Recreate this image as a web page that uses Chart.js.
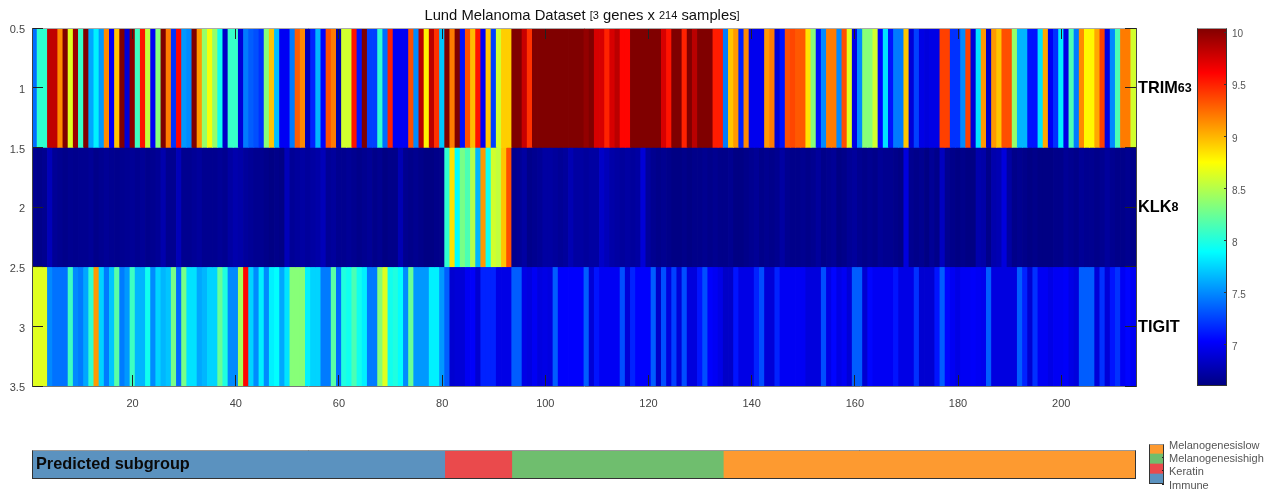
<!DOCTYPE html>
<html>
<head>
<meta charset="utf-8">
<title>Lund Melanoma Dataset</title>
<script src="https://cdn.jsdelivr.net/npm/chart.js@4/dist/chart.umd.min.js"></script>
<style>
    html, body { margin: 0; padding: 0; background: #fff; }
    #page { position: relative; width: 1275px; height: 489px; overflow: hidden; }
    canvas { position: absolute; display: block; }
</style>
</head>
<body>
<div id="page">
    <canvas id="heatmap" width="1197" height="420" style="left:0;top:0"></canvas>
    <canvas id="colorbar" width="78" height="420" style="left:1197px;top:0"></canvas>
    <canvas id="subgroup" width="1140" height="49" style="left:0;top:440px"></canvas>
    <canvas id="legend" width="127" height="59" style="left:1148px;top:430px"></canvas>
</div>
<script>
// 1. DATA
const chartTitle = 'Lund Melanoma Dataset [3 genes x 214 samples]';
const geneNames = ['TRIM63', 'KLK8', 'TIGIT'];
const rowBands = [[0.5, 1.5], [1.5, 2.5], [2.5, 3.5]];

const trim63 = [
    7.41, 8.05, 8.05, 9.83, 9.83, 9.15, 10.05, 8.65, 9.95, 8.08,
    10.05, 7.6, 7.85, 7.55, 9.15, 7.0, 8.95, 10.05, 6.9, 10.0,
    8.1, 9.55, 8.55, 7.0, 8.35, 10.05, 9.2, 7.2, 9.6, 7.55,
    7.5, 10.05, 9.1, 8.4, 8.72, 8.4, 7.95, 6.85, 8.08, 8.08,
    6.9, 7.45, 7.35, 7.3, 7.2, 8.35, 8.95, 7.68, 7.0, 7.0,
    7.45, 9.3, 9.15, 6.8, 7.15, 7.65, 7.05, 9.35, 9.2, 6.75,
    8.6, 8.6, 9.55, 7.1, 10.05, 7.25, 7.25, 8.05, 7.4, 9.5,
    7.0, 7.0, 7.0, 9.35, 7.5, 9.85, 8.8, 9.85, 9.45, 7.7,
    10.05, 9.2, 10.05, 7.1, 9.35, 8.98, 9.55, 7.0, 8.95, 7.25,
    8.6, 8.92, 8.92, 10.05, 10.05, 9.8, 9.45, 10.05, 10.05, 10.05,
    10.05, 10.05, 10.05, 10.05, 10.05, 10.05, 10.05, 9.98, 10.05, 9.75,
    9.75, 9.5, 9.75, 9.85, 9.6, 9.6, 10.05, 10.05, 10.05, 10.05,
    10.05, 10.05, 9.75, 9.55, 10.05, 10.05, 9.5, 10.05, 9.85, 10.05,
    10.05, 10.05, 9.52, 9.52, 7.45, 8.95, 9.1, 7.15, 9.15, 6.98,
    6.98, 6.98, 9.1, 9.2, 6.9, 7.1, 9.35, 9.38, 9.32, 9.32,
    8.85, 8.35, 7.1, 7.5, 9.2, 9.2, 7.5, 9.35, 8.65, 6.95,
    7.5, 8.35, 8.35, 8.6, 7.05, 7.8, 7.1, 7.45, 7.45, 8.95,
    6.9, 7.25, 6.95, 6.92, 6.95, 6.95, 9.4, 9.4, 7.2, 7.2,
    7.5, 9.4, 6.9, 7.8, 9.1, 6.85, 9.1, 8.95, 9.35, 9.35,
    8.4, 7.65, 7.65, 7.1, 7.1, 7.8, 9.05, 7.0, 7.2, 7.85,
    6.95, 8.15, 7.45, 9.15, 8.78, 8.78, 9.05, 9.4, 6.95, 7.5,
    8.15, 9.2, 9.2, 8.6
];

const klk8 = [
    6.66, 6.64, 6.66, 6.8, 6.68, 6.66, 6.64, 6.66, 6.65, 6.66,
    6.66, 6.68, 6.64, 6.66, 6.68, 6.66, 6.65, 6.66, 6.67, 6.68,
    6.66, 6.68, 6.65, 6.66, 6.68, 6.76, 6.66, 6.66, 6.8, 6.66,
    6.66, 6.68, 6.7, 6.66, 6.66, 6.66, 6.68, 6.66, 6.72, 6.76,
    6.74, 6.7, 6.68, 6.66, 6.66, 6.64, 6.62, 6.64, 6.62, 6.8,
    6.68, 6.7, 6.72, 6.7, 6.72, 6.74, 6.8, 6.68, 6.7, 6.66,
    6.66, 6.68, 6.66, 6.64, 6.66, 6.68, 6.64, 6.66, 6.62, 6.64,
    6.64, 6.78, 6.66, 6.64, 6.66, 6.64, 6.62, 6.62, 6.64, 6.64,
    8.05, 8.85, 7.9, 8.3, 8.15, 8.5, 7.65, 9.1, 7.95, 8.6,
    8.55, 8.95, 9.35, 6.66, 6.68, 6.72, 6.64, 6.66, 6.68, 6.72,
    6.72, 6.7, 6.68, 6.7, 6.78, 6.72, 6.72, 6.7, 6.72, 6.72,
    6.85, 6.8, 6.74, 6.72, 6.7, 6.72, 6.7, 6.72, 6.9, 6.7,
    6.66, 6.64, 6.66, 6.64, 6.62, 6.62, 6.64, 6.62, 6.64, 6.64,
    6.66, 6.64, 6.66, 6.64, 6.64, 6.66, 6.62, 6.62, 6.64, 6.66,
    6.68, 6.64, 6.66, 6.64, 6.66, 6.72, 6.66, 6.64, 6.64, 6.66,
    6.64, 6.66, 6.7, 6.64, 6.66, 6.68, 6.62, 6.64, 6.68, 6.7,
    6.66, 6.64, 6.66, 6.64, 6.68, 6.66, 6.66, 6.64, 6.62, 6.92,
    6.66, 6.64, 6.66, 6.62, 6.68, 6.64, 6.82, 6.66, 6.64, 6.62,
    6.64, 6.62, 6.62, 6.76, 6.74, 6.64, 6.76, 6.78, 6.92, 6.72,
    6.64, 6.66, 6.64, 6.62, 6.64, 6.62, 6.62, 6.62, 6.64, 6.64,
    6.68, 6.66, 6.64, 6.68, 6.66, 6.66, 6.64, 6.66, 6.7, 6.66,
    6.64, 6.64, 6.66, 6.64
];

const tigit = [
    8.65, 8.65, 8.65, 7.5, 7.42, 7.42, 7.42, 8.1, 7.5, 7.45,
    7.6, 8.05, 9.1, 7.75, 7.45, 7.7, 8.2, 7.45, 7.55, 8.1,
    7.65, 7.65, 7.95, 7.5, 7.75, 7.65, 7.7, 8.3, 7.4, 8.3,
    7.8, 7.8, 7.6, 7.65, 7.75, 7.75, 8.25, 8.0, 7.5, 7.5,
    8.45, 9.6, 7.75, 7.5, 7.85, 7.5, 7.85, 7.9, 7.6, 7.8,
    8.35, 8.35, 8.35, 7.85, 7.75, 7.75, 7.45, 7.45, 8.2, 7.4,
    8.0, 7.95, 8.15, 7.95, 7.85, 7.45, 7.45, 8.35, 8.65, 7.95,
    8.0, 7.9, 7.5, 8.25, 7.55, 7.55, 7.55, 7.85, 7.85, 7.55,
    7.35, 6.88, 6.9, 6.9, 7.0, 7.02, 6.88, 7.15, 7.15, 7.15,
    6.95, 6.95, 6.95, 7.35, 7.35, 6.95, 6.93, 7.0, 6.93, 6.95,
    6.93, 7.35, 7.03, 7.03, 7.03, 7.03, 7.03, 7.35, 6.9, 7.1,
    7.0, 7.0, 7.0, 7.0, 7.3, 6.9, 7.15, 7.03, 7.03, 7.03,
    7.35, 6.85, 7.3, 6.92, 7.25, 6.9, 7.3, 6.92, 6.92, 7.1,
    7.3, 7.03, 7.0, 6.95, 6.85, 6.85, 7.1, 6.95, 6.95, 6.95,
    7.15, 7.3, 6.9, 6.9, 7.15, 7.0, 7.0, 7.0, 7.0, 7.0,
    6.92, 6.92, 6.92, 7.3, 6.95, 7.05, 6.95, 7.0, 6.9, 7.35,
    7.35, 6.88, 7.05, 7.0, 7.0, 7.0, 7.0, 7.1, 6.95, 6.95,
    6.95, 7.2, 6.88, 6.88, 6.88, 7.1, 7.35, 7.05, 7.0, 6.95,
    7.0, 7.0, 7.02, 7.0, 6.98, 7.35, 6.93, 6.93, 6.93, 6.93,
    6.93, 7.35, 7.15, 6.88, 7.2, 7.0, 7.0, 6.95, 7.0, 7.0,
    7.02, 6.95, 6.92, 7.35, 7.35, 7.35, 6.9, 7.2, 6.9, 7.1,
    7.2, 7.0, 7.05, 7.0
];

const geneValues = [trim63, klk8, tigit];
const colorMin = 6.606;
const colorMax = 10.045;
const colorbarTicks = [7, 7.5, 8, 8.5, 9, 9.5, 10];

// legend runs bottom to top, the subgroup bar left to right
const subgroupNames = ['Immune', 'Keratin', 'Melanogenesishigh', 'Melanogenesislow'];
const subgroupCounts = [80, 13, 41, 80];
const subgroupColors = ['#5b92bf', '#ea4a4c', '#6fbe6e', '#fd9a30'];
const subgroupLabel = 'Predicted subgroup';

// 2. JET COLORMAP
const jetStops = [
    [0, [0, 0, 128]], [0.125, [0, 0, 255]], [0.375, [0, 255, 255]],
    [0.625, [255, 255, 0]], [0.875, [255, 0, 0]], [1, [128, 0, 0]]
];

function jetColor(value) {
    const t = Math.min(1, Math.max(0, (value - colorMin) / (colorMax - colorMin)));
    for (let i = 1; i < jetStops.length; i++) {
        const [p0, c0] = jetStops[i - 1];
        const [p1, c1] = jetStops[i];
        if (t <= p1) {
            const f = (t - p0) / (p1 - p0);
            const rgb = c0.map((c, k) => Math.round(c + (c1[k] - c) * f));
            return 'rgb(' + rgb.join(',') + ')';
        }
    }
    return 'rgb(128,0,0)';
}

// 3. SMALL HELPERS
Chart.defaults.font.family = "'Liberation Sans', Arial, sans-serif";
Chart.defaults.animation = false;
Chart.defaults.responsive = false;
Chart.defaults.plugins.legend.display = false;
Chart.defaults.plugins.tooltip.enabled = false;

// digits and brackets come out smaller in the original labels
function drawMixedText(ctx, text, x, y, bigFont, smallFont) {
    text.split(/([\[\]0-9]+)/).forEach(part => {
        ctx.font = /^[\[\]0-9]/.test(part) ? smallFont : bigFont;
        ctx.fillText(part, x, y);
        x += ctx.measureText(part).width;
    });
}

function mixedWidth(ctx, text, bigFont, smallFont) {
    let w = 0;
    text.split(/([\[\]0-9]+)/).forEach(part => {
        ctx.font = /^[\[\]0-9]/.test(part) ? smallFont : bigFont;
        w += ctx.measureText(part).width;
    });
    return w;
}

// stop tick labels from pushing the plot area in
function noLabelPadding(s) {
    s.paddingTop = 0;
    s.paddingBottom = 0;
    s.paddingLeft = 0;
    s.paddingRight = 0;
}

const framePlugin = {
    id: 'frame',
    afterDraw(chart) {
        const { ctx, chartArea: a } = chart;
        const l = Math.round(a.left) + 0.5, t = Math.round(a.top) + 0.5;
        const w = Math.round(a.width) - 1, h = Math.round(a.height) - 1;
        ctx.save();
        ctx.lineWidth = 1;
        ctx.strokeStyle = '#333';
        ctx.strokeRect(l, t, w, h);
        ctx.strokeStyle = '#999';
        ctx.beginPath();
        ctx.moveTo(l, t);
        ctx.lineTo(l + w, t);
        ctx.stroke();
        ctx.restore();
    }
};

const heatmapLabels = {
    id: 'heatmapLabels',
    afterDraw(chart) {
        const { ctx, scales } = chart;
        ctx.save();
        ctx.fillStyle = '#111';
        ctx.textBaseline = 'middle';
        const tBig = "14.8px 'Liberation Sans'";
        const tSmall = "11px 'Liberation Sans'";
        const tw = mixedWidth(ctx, chartTitle, tBig, tSmall);
        drawMixedText(ctx, chartTitle, 582 - tw / 2, 16, tBig, tSmall);
        ctx.fillStyle = '#000';
        geneNames.forEach((name, i) => {
            drawMixedText(ctx, name, 1138, scales.y.getPixelForValue(i + 1) + 1,
                "bold 16.3px 'Liberation Sans'", "bold 12.5px 'Liberation Sans'");
        });
        ctx.restore();
    }
};

// 4. HEATMAP
const heatmapDatasets = geneValues.map((values, row) => ({
    label: geneNames[row],
    data: values.map((v, i) => ({ x: i + 1, y: rowBands[row] })),
    backgroundColor: values.map(jetColor),
    borderWidth: 0,
    inflateAmount: 0.4,
    grouped: false,
    barPercentage: 1,
    categoryPercentage: 1
}));

const tickGrid = { drawOnChartArea: false, offset: false, color: '#222', tickLength: -11, z: 1 };

// an empty first line nudges a y tick label down by half the line height
new Chart(document.getElementById('heatmap'), {
    type: 'bar',
    data: { datasets: heatmapDatasets },
    options: {
        layout: { padding: { top: 28 } },
        scales: {
            x: {
                type: 'linear', position: 'bottom', min: 0.5, max: 214.5, offset: false,
                grid: tickGrid,
                border: { color: '#777', z: 1 },
                ticks: { stepSize: 20, includeBounds: false, maxRotation: 0, padding: 22, color: '#444', font: { size: 11 } },
                afterFit: s => { s.height = 34; noLabelPadding(s); }
            },
            xTop: {
                type: 'linear', position: 'top', min: 0.5, max: 214.5, offset: false,
                grid: tickGrid,
                border: { color: '#aaa', z: 1 },
                ticks: { stepSize: 20, includeBounds: false, display: false },
                afterFit: s => { s.height = 0; noLabelPadding(s); }
            },
            y: {
                type: 'linear', position: 'left', reverse: true, min: 0.5, max: 3.5,
                grid: tickGrid,
                border: { color: '#444', z: 1 },
                ticks: { stepSize: 0.5, padding: 18, color: '#444', font: { size: 11, lineHeight: 0.4 }, callback: v => ['', v] },
                afterFit: s => { s.width = 32; noLabelPadding(s); }
            },
            yRight: {
                type: 'linear', position: 'right', reverse: true, min: 0.5, max: 3.5,
                grid: tickGrid,
                border: { color: '#444', z: 1 },
                ticks: { stepSize: 0.5, display: false },
                afterFit: s => { s.width = 61; noLabelPadding(s); }
            }
        }
    },
    plugins: [heatmapLabels]
});

// 5. COLORBAR
new Chart(document.getElementById('colorbar'), {
    type: 'bar',
    data: {
        labels: ['jet'],
        datasets: [{
            data: [[colorMin, colorMax]],
            borderWidth: 0,
            barPercentage: 1,
            categoryPercentage: 1,
            backgroundColor: ctx => {
                const area = ctx.chart.chartArea;
                if (!area) return '#00f';
                const g = ctx.chart.ctx.createLinearGradient(0, area.bottom, 0, area.top);
                jetStops.forEach(([p, c]) => g.addColorStop(p, 'rgb(' + c.join(',') + ')'));
                return g;
            }
        }]
    },
    options: {
        layout: { padding: { top: 28, bottom: 34 } },
        scales: {
            x: { display: false },
            y: {
                position: 'right', min: colorMin, max: colorMax,
                grid: { drawOnChartArea: false, color: '#333', tickLength: -3, z: 1 },
                border: { display: false },
                afterBuildTicks: s => { s.ticks = colorbarTicks.map(value => ({ value })); },
                ticks: { padding: 8, color: '#555', font: { size: 10, lineHeight: 0.4 }, callback: v => ['', v] },
                afterFit: s => { s.width = 48; noLabelPadding(s); }
            }
        }
    },
    plugins: [framePlugin]
});

// 6. SUBGROUP BAR
new Chart(document.getElementById('subgroup'), {
    type: 'bar',
    data: {
        labels: [subgroupLabel],
        datasets: subgroupCounts.map((n, i) => ({
            label: subgroupNames[i],
            data: [n],
            backgroundColor: subgroupColors[i],
            borderWidth: 0,
            barPercentage: 1,
            categoryPercentage: 1
        }))
    },
    options: {
        indexAxis: 'y',
        layout: { padding: { left: 32, right: 4, top: 10, bottom: 10 } },
        scales: {
            x: { display: false, stacked: true, min: 0, max: 214 },
            y: {
                stacked: true,
                grid: { display: false },
                border: { display: false },
                ticks: { mirror: true, padding: 4, z: 1, color: '#0a0a0a', font: { size: 16.3, weight: 'bold' } },
                afterFit: s => { s.width = 0; noLabelPadding(s); }
            }
        }
    },
    plugins: [framePlugin]
});

// 7. SUBGROUP LEGEND
new Chart(document.getElementById('legend'), {
    type: 'bar',
    data: {
        labels: ['subgroup'],
        datasets: subgroupNames.map((name, i) => ({
            label: name,
            data: [0.75],
            backgroundColor: subgroupColors[i],
            borderWidth: 0,
            barPercentage: 1,
            categoryPercentage: 1
        }))
    },
    options: {
        layout: { padding: { top: 14, bottom: 5, left: 1 } },
        scales: {
            x: { display: false, stacked: true },
            y: {
                stacked: true, position: 'right', min: 0, max: 3,
                grid: { drawOnChartArea: false, color: '#222', tickLength: -2, z: 1 },
                border: { display: false },
                ticks: { stepSize: 1, autoSkip: false, padding: 7, color: '#555', font: { size: 11, lineHeight: 0.27 }, callback: v => ['', subgroupNames[v]] },
                afterFit: s => { s.width = 111; noLabelPadding(s); }
            }
        }
    },
    plugins: [framePlugin]
});
</script>
</body>
</html>
